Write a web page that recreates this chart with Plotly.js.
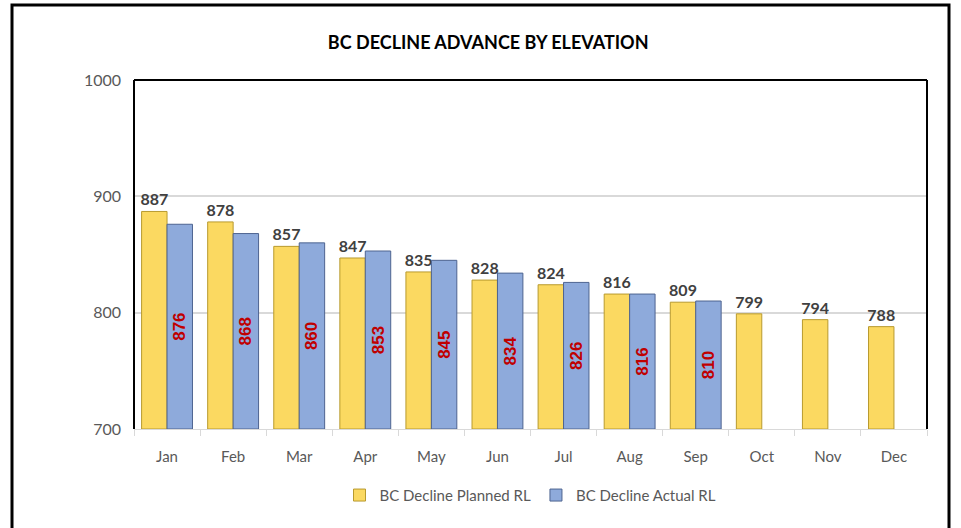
<!DOCTYPE html>
<html>
<head>
<meta charset="utf-8">
<script src="https://cdn.plot.ly/plotly-3.0.1.min.js"></script>
<style>
html,body{margin:0;padding:0;background:#fff;}
#chart{width:961px;height:528px;}
</style>
</head>
<body>
<div id="chart"></div>
<script>
const months = ["Jan","Feb","Mar","Apr","May","Jun","Jul","Aug","Sep","Oct","Nov","Dec"];
const plannedRL = [887,878,857,847,835,828,824,816,809,799,794,788];
const actualRL = [876,868,860,853,845,834,826,816,810];
const yTicks = [700,800,900,1000];
const axisBase = 700;

const font = "Lato, 'Open Sans', 'DejaVu Sans', sans-serif";

const traces = [
  {
    type: "bar",
    name: "BC Decline Planned RL",
    x: months,
    y: plannedRL.map(v => v - axisBase),
    base: axisBase,
    marker: {color: "#FBD961", line: {color: "#B89A2E", width: 1}},
    text: plannedRL.map(v => String(v)),
    textposition: "outside",
    textangle: 0,
    outsidetextfont: {family: font, size: 16, color: "#404040", weight: "bold"},
    cliponaxis: false,
    constraintext: "none",
    hoverinfo: "x+text"
  },
  {
    type: "bar",
    name: "BC Decline Actual RL",
    x: months.slice(0, actualRL.length),
    y: actualRL.map(v => v - axisBase),
    base: axisBase,
    marker: {color: "#8EAADB", line: {color: "#4E6490", width: 1}},
    text: actualRL.map(String),
    textposition: "inside",
    insidetextanchor: "middle",
    textangle: -90,
    insidetextfont: {family: "'Liberation Sans', Arial, sans-serif", size: 17, color: "#C00000", weight: "bold"},
    constraintext: "none",
    cliponaxis: false,
    hoverinfo: "x+text"
  }
];

const layout = {
  width: 961,
  height: 528,
  margin: {l: 134, r: 34, t: 80, b: 99},
  paper_bgcolor: "#ffffff",
  plot_bgcolor: "#ffffff",
  title: {
    text: "BC DECLINE ADVANCE BY ELEVATION",
    font: {family: font, size: 18, color: "#000000", weight: "bold"},
    x: 0.508, xanchor: "center", y: 0.92, yanchor: "middle"
  },
  barmode: "group",
  bargap: 0.23,
  bargroupgap: 0,
  showlegend: true,
  legend: {
    orientation: "h",
    x: 0.5, xanchor: "center",
    y: -0.19, yanchor: "middle",
    font: {family: font, size: 15, color: "#595959"},
    itemwidth: 30
  },
  xaxis: {
    type: "category",
    tickfont: {family: font, size: 15, color: "#595959"},
    showline: true,
    linecolor: "#D9D9D9",
    linewidth: 1,
    ticks: "outside",
    tickson: "boundaries",
    tickcolor: "#D9D9D9",
    ticklen: 6,
    ticklabelstandoff: 14,
    showgrid: false
  },
  yaxis: {
    range: [700, 1000],
    tickvals: yTicks,
    ticktext: yTicks.map(String),
    tickfont: {family: font, size: 16, color: "#595959"},
    showgrid: true,
    gridcolor: "#D9D9D9",
    gridwidth: 2,
    zeroline: false,
    showline: false,
    ticks: "",
    ticklabelstandoff: 12
  },
  shapes: [
    {type: "line", xref: "paper", yref: "paper", x0: 0, x1: 1, y0: 1, y1: 1, line: {color: "#000", width: 2}},
    {type: "line", xref: "paper", yref: "paper", x0: 0, x1: 0, y0: 0, y1: 1, line: {color: "#000", width: 2}},
    {type: "line", xref: "paper", yref: "paper", x0: 1, x1: 1, y0: 0, y1: 1, line: {color: "#000", width: 2}},
    {type: "rect", xref: "paper", yref: "paper",
     x0: (12 - 134) / 793, x1: (949 - 134) / 793,
     y0: -0.5, y1: (429 - 5) / 349,
     line: {color: "#000", width: 3}, fillcolor: "rgba(0,0,0,0)", layer: "below"}
  ]
};

Plotly.newPlot("chart", traces, layout, {displayModeBar: false, staticPlot: true});
</script>
</body>
</html>
